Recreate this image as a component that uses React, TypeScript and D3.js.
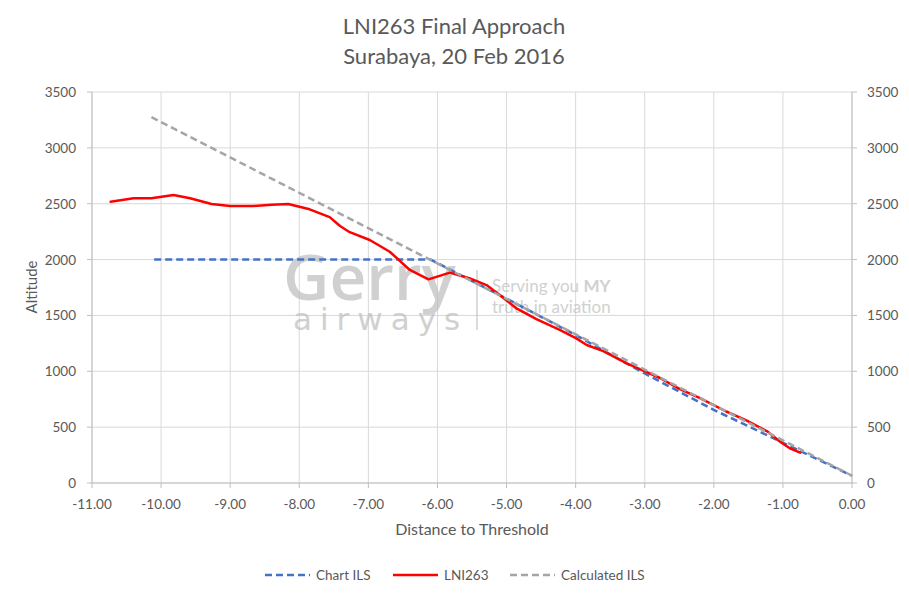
import * as d3 from "d3";

const W = 909;
const H = 596;
const FONT = "Lato, 'Open Sans', sans-serif";
const TEXT = "#595959";

// Chart ILS (dashed blue)
const chartIlsDist = [-10.1, -6.1, -5.0, -4.0, -3.0, -2.0, -1.0, 0.0];
const chartIlsAlt = [2000, 2000, 1650, 1325, 980, 655, 360, 65];

// LNI263 flown track (red)
const lniDist = [
  -10.73, -10.4, -10.14, -9.82, -9.58, -9.27, -9.0, -8.67, -8.4, -8.16, -7.85,
  -7.56, -7.41, -7.27, -6.98, -6.69, -6.4, -6.13, -5.82, -5.7, -5.53, -5.29,
  -5.1, -4.85, -4.56, -4.23, -3.99, -3.84, -3.6, -3.26, -3.02, -2.78, -2.49,
  -2.2, -1.82, -1.53, -1.22, -1.04, -0.9, -0.75,
];
const lniAlt = [
  2518, 2549, 2549, 2578, 2549, 2497, 2480, 2480, 2491, 2497, 2450, 2380,
  2300, 2245, 2175, 2070, 1907, 1823, 1883, 1862, 1832, 1772, 1683, 1560,
  1465, 1370, 1295, 1235, 1180, 1071, 1005, 940, 840, 760, 640, 560, 460,
  370, 311, 271,
];

// Calculated ILS (dashed grey)
const calcIlsDist = [-10.14, 0.0];
const calcIlsAlt = [3275, 65];

const xTicks = [-11, -10, -9, -8, -7, -6, -5, -4, -3, -2, -1, 0];
const yTicks = [0, 500, 1000, 1500, 2000, 2500, 3000, 3500];

const legendItems = [
  { label: "Chart ILS", color: "#4472c4", dash: "7,4" },
  { label: "LNI263", color: "#ff0000", dash: "" },
  { label: "Calculated ILS", color: "#a5a5a5", dash: "7,4" },
];

export default function App() {
  const left = 92;
  const right = 852;
  const top = 92;
  const bottom = 483;

  const x = d3.scaleLinear().domain([-11, 0]).range([left, right]);
  const y = d3.scaleLinear().domain([0, 3500]).range([bottom, top]);

  const line = d3
    .line<[number, number]>()
    .x((d) => x(d[0]))
    .y((d) => y(d[1]));

  const zip = (a: number[], b: number[]) =>
    a.map((v, i) => [v, b[i]] as [number, number]);

  const legendX = [265, 393, 510];

  return (
    <svg
      width={W}
      height={H}
      style={{ position: "absolute", left: 0, top: 0, background: "#fff" }}
      fontFamily={FONT}
    >
      <rect width={W} height={H} fill="#fff" />

      {/* title */}
      <text x={454} y={34} textAnchor="middle" fontSize={22} fill={TEXT}>
        LNI263 Final Approach
      </text>
      <text x={454} y={64} textAnchor="middle" fontSize={22} fill={TEXT}>
        Surabaya, 20 Feb 2016
      </text>

      {/* grid */}
      {xTicks.map((t) => (
        <line
          key={`gx${t}`}
          x1={x(t)}
          x2={x(t)}
          y1={top}
          y2={bottom}
          stroke="#d9d9d9"
          strokeWidth={1}
        />
      ))}
      {yTicks.map((t) => (
        <line
          key={`gy${t}`}
          x1={left}
          x2={right}
          y1={y(t)}
          y2={y(t)}
          stroke="#d9d9d9"
          strokeWidth={1}
        />
      ))}

      {/* axes */}
      <line x1={left} x2={right} y1={bottom} y2={bottom} stroke="#bfbfbf" />
      <line x1={left} x2={left} y1={top} y2={bottom} stroke="#bfbfbf" />
      <line x1={right} x2={right} y1={top} y2={bottom} stroke="#bfbfbf" />
      {yTicks.map((t) => (
        <g key={`tk${t}`}>
          <line x1={left - 5} x2={left} y1={y(t)} y2={y(t)} stroke="#bfbfbf" />
          <line x1={right} x2={right + 5} y1={y(t)} y2={y(t)} stroke="#bfbfbf" />
        </g>
      ))}
      {xTicks.map((t) => (
        <line
          key={`tkx${t}`}
          x1={x(t)}
          x2={x(t)}
          y1={bottom}
          y2={bottom + 5}
          stroke="#bfbfbf"
        />
      ))}

      {/* tick labels */}
      {yTicks.map((t) => (
        <text
          key={`ly${t}`}
          x={76}
          y={y(t) + 5}
          textAnchor="end"
          fontSize={13.5}
          fill={TEXT}
        >
          {t}
        </text>
      ))}
      {yTicks.map((t) => (
        <text
          key={`ry${t}`}
          x={867}
          y={y(t) + 5}
          textAnchor="start"
          fontSize={13.5}
          fill={TEXT}
        >
          {t}
        </text>
      ))}
      {xTicks.map((t) => (
        <text
          key={`lx${t}`}
          x={x(t)}
          y={509}
          textAnchor="middle"
          fontSize={13.5}
          fill={TEXT}
        >
          {d3.format(".2f")(t).replace("−", "-")}
        </text>
      ))}

      {/* axis titles */}
      <text x={472} y={535} textAnchor="middle" fontSize={16} fill={TEXT}>
        Distance to Threshold
      </text>
      <text
        transform={`translate(37,287) rotate(-90)`}
        textAnchor="middle"
        fontSize={15}
        fill={TEXT}
      >
        Altitude
      </text>

      {/* watermark */}
      <g fill="#bdbdbd" opacity={0.7}>
        <text
          x={283}
          y={300}
          fontSize={64}
          fontWeight={600}
          fontFamily="'Open Sans', sans-serif"
        >
          Gerry
        </text>
        <text
          x={293}
          y={330}
          fontSize={31}
          letterSpacing={8}
          fontFamily="'DejaVu Sans', sans-serif"
        >
          airways
        </text>
        <line x1={477} x2={477} y1={270} y2={330} stroke="#bdbdbd" strokeWidth={1.5} />
        <text x={492} y={292} fontSize={17} fontFamily={FONT}>
          Serving you <tspan fontWeight="bold">MY</tspan>
        </text>
        <text x={492} y={313} fontSize={17} fontFamily={FONT}>
          truth in aviation
        </text>
      </g>

      {/* series */}
      <path
        d={line(zip(chartIlsDist, chartIlsAlt)) ?? ""}
        fill="none"
        stroke="#4472c4"
        strokeWidth={2.5}
        strokeDasharray="7,4"
      />
      <path
        d={line(zip(lniDist, lniAlt)) ?? ""}
        fill="none"
        stroke="#ff0000"
        strokeWidth={2.5}
        strokeLinejoin="round"
        strokeLinecap="round"
      />
      <path
        d={line(zip(calcIlsDist, calcIlsAlt)) ?? ""}
        fill="none"
        stroke="#a5a5a5"
        strokeWidth={2.5}
        strokeDasharray="7,4"
      />

      {/* legend */}
      {legendItems.map((it, i) => (
        <g key={it.label} transform={`translate(${legendX[i]},575)`}>
          <line
            x1={0}
            x2={45}
            y1={0}
            y2={0}
            stroke={it.color}
            strokeWidth={2.5}
            strokeDasharray={it.dash || undefined}
          />
          <text x={51} y={5} fontSize={13.5} fill={TEXT}>
            {it.label}
          </text>
        </g>
      ))}
    </svg>
  );
}
